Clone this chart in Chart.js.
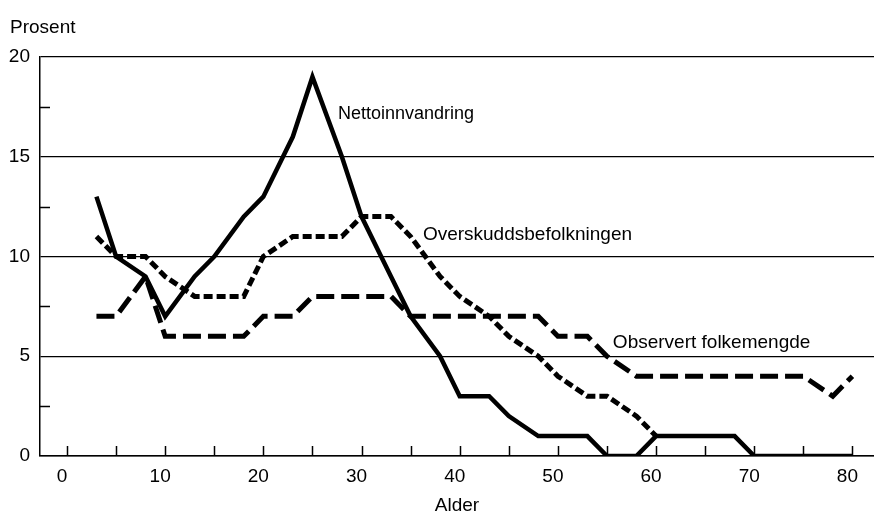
<!DOCTYPE html>
<html><head><meta charset="utf-8">
<script src="https://cdn.jsdelivr.net/npm/chart.js@4/dist/chart.umd.min.js"></script>
<style>html,body{margin:0;padding:0;background:#fff;}#wrap{width:874px;height:512px;}</style>
</head><body><div id="wrap"><canvas id="c" width="874" height="512"></canvas></div>
<script>
// ---- data ----
const ages = [3,5,8,10,13,15,18,20,23,25,28,30,33,35,38,40,43,45,48,50,53,55,58,60,63,65,68,70,73,75,78,80];
const nettoinnvandring = [13,10,9,7,9,10,12,13,16,19,15,12,9,7,5,3,3,2,1,1,1,0,0,1,1,1,1,0,0,0,0,0];
const overskuddsbefolkningen = [11,10,10,9,8,8,8,10,11,11,11,12,12,11,9,8,7,6,5,4,3,3,2,1,null,null,null,null,null,null,null,null];
const observertFolkemengde = [7,7,9,6,6,6,6,7,7,8,8,8,8,7,7,7,7,7,7,6,6,5,4,4,4,4,4,4,4,4,3,4];
const seriesNames = ['Nettoinnvandring','Overskuddsbefolkningen','Observert folkemengde'];
const xTickValues = [0,5,10,15,20,25,30,35,40,45,50,55,60,65,70,75,80];
const xTickLabels = ['0','','10','','20','','30','','40','','50','','60','','70','','80'];
const yTickValues = [0,5,10,15,20];
const yMinorTicks = [2.5,7.5,12.5,17.5];
const yAxisTitle = 'Prosent';
const xAxisTitle = 'Alder';

// ---- layout / style ----
const FONT = '"Liberation Sans", Arial, Helvetica, sans-serif';
const FS = 19;
const labelAnchors = [ {x:27.6, y:16.9, size:18}, {x:36.25, y:10.83, size:19}, {x:55.6, y:5.4, size:19} ];

function pts(vals){ return ages.map((a,i)=>({x:a,y:vals[i]})); }

const decor = {
  id:'decor',
  afterDraw(chart){
    const ctx = chart.ctx, xs = chart.scales.x, ys = chart.scales.y, ca = chart.chartArea;
    ctx.save();
    ctx.strokeStyle = '#000'; ctx.lineWidth = 1.5;
    ctx.beginPath();
    xTickValues.forEach(v=>{ const px = Math.round(xs.getPixelForValue(v))+0.5; ctx.moveTo(px, ca.bottom); ctx.lineTo(px, ca.bottom-10); });
    yMinorTicks.forEach(v=>{ const py = Math.round(ys.getPixelForValue(v))+0.5; ctx.moveTo(ca.left, py); ctx.lineTo(ca.left+10, py); });
    ctx.stroke();
    ctx.fillStyle = '#000';
    ctx.textBaseline = 'alphabetic';
    ctx.textAlign = 'left';
    seriesNames.forEach((n,i)=>{
      ctx.font = labelAnchors[i].size + 'px ' + FONT;
      ctx.fillText(n, xs.getPixelForValue(labelAnchors[i].x), ys.getPixelForValue(labelAnchors[i].y));
    });
    ctx.font = FS + 'px ' + FONT;
    ctx.fillText(yAxisTitle, 10, 33);
    ctx.textAlign = 'center';
    ctx.fillText(xAxisTitle, (ca.left+ca.right)/2, 510.5);
    ctx.restore();
  }
};

new Chart(document.getElementById('c'), {
  type:'line',
  data:{ datasets:[
    { label:seriesNames[0], data:pts(nettoinnvandring), borderColor:'#000', borderWidth:4.5, pointRadius:0, tension:0, fill:false },
    { label:seriesNames[1], data:pts(overskuddsbefolkningen), borderColor:'#000', borderWidth:5, borderDash:[9,4], pointRadius:0, tension:0, fill:false, spanGaps:false },
    { label:seriesNames[2], data:pts(observertFolkemengde), borderColor:'#000', borderWidth:5, borderDash:[18,7], pointRadius:0, tension:0, fill:false }
  ]},
  options:{
    responsive:false, animation:false, devicePixelRatio:1,
    layout:{ padding:{ top:57, left:0, right:0, bottom:0 } },
    plugins:{ legend:{display:false}, tooltip:{enabled:false} },
    scales:{
      x:{ type:'linear', min:-2.75, max:82.2,
        afterBuildTicks(s){ s.ticks = xTickValues.map(v=>({value:v})); },
        afterFit(s){ s.height = 56; },
        grid:{ display:false, drawTicks:false },
        border:{ display:true, color:'#000', width:1.5 },
        ticks:{ autoSkip:false, maxRotation:0, padding:9, labelOffset:-5, color:'#000', font:{family:FONT, size:FS},
          callback:(v)=> xTickLabels[xTickValues.indexOf(v)] ?? '' } },
      y:{ min:0, max:20,
        afterBuildTicks(s){ s.ticks = yTickValues.map(v=>({value:v})); },
        afterFit(s){ s.width = 40; },
        grid:{ color:'#000', lineWidth:1.3, drawTicks:false },
        border:{ display:true, color:'#000', width:1.5 },
        ticks:{ padding:10, color:'#000', font:{family:FONT, size:FS} } }
    }
  },
  plugins:[decor]
});
</script></body></html>
